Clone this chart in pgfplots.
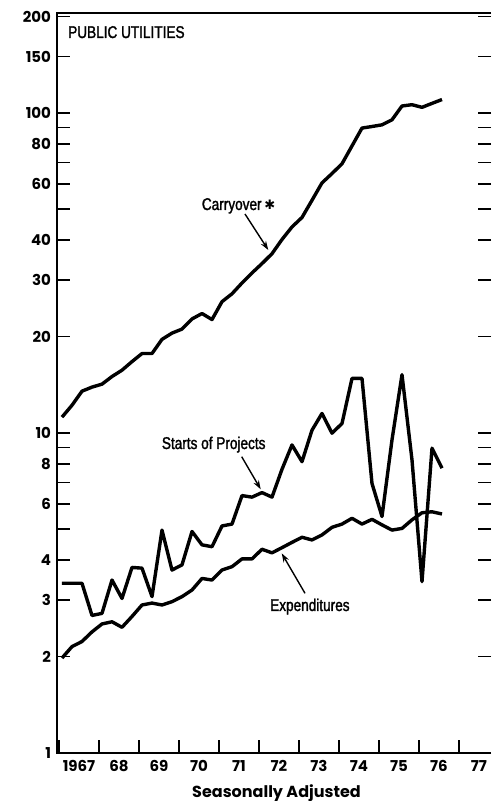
\documentclass[border=0pt]{standalone}
\usepackage{pgfplots}
\pgfplotsset{compat=1.18}
\usepackage{pgfplotstable}
\usepackage{fontspec}
\setmainfont{Poppins}
\newfontfamily\cond[FakeStretch=0.80,FakeBold=1.6]{Liberation Sans}
\newfontfamily\symf{DejaVu Sans}
\newcommand{\tickfont}{\fontsize{15}{15}\selectfont\bfseries}
\usetikzlibrary{arrows.meta}

\pgfplotstableread{
t        carry  starts  exp
1967.075 11.2   3.39    1.98
1967.325 12.2   3.39    2.15
1967.575 13.5   3.39    2.23
1967.825 13.9   2.69    2.39
1968.075 14.2   2.73    2.53
1968.325 15.0   3.47    2.57
1968.575 15.7   3.04    2.47
1968.825 16.7   3.80    2.67
1969.075 17.7   3.78    2.90
1969.325 17.7   3.08    2.94
1969.575 19.6   4.97    2.90
1969.825 20.5   3.73    2.97
1970.075 21.1   3.87    3.08
1970.325 22.7   4.92    3.23
1970.575 23.6   4.47    3.51
1970.825 22.6   4.41    3.47
1971.075 25.7   5.12    3.73
1971.325 27.2   5.19    3.82
1971.575 29.4   6.37    4.04
1971.825 31.6   6.30    4.04
1972.075 33.8   6.51    4.33
1972.325 36.3   6.30    4.22
1972.575 40.2   7.70    4.38
1972.825 44.0   9.17    4.55
1973.075 47.1   8.13    4.72
1973.325 53.3   10.2    4.63
1973.575 60.4   11.5    4.80
1973.825 64.6   9.98    5.07
1974.075 69.3   10.7    5.19
1974.325 78.8   14.8    5.41
1974.575 89.6   14.8    5.19
1974.825 90.6   6.95    5.37
1975.075 91.7   5.48    5.16
1975.325 95.1   9.51    4.97
1975.575 105.0  15.2    5.03
1975.825 106.0  8.23    5.35
1976.075 104.0  3.43    5.63
1976.325 107.0  8.96    5.67
1976.575 110.0  7.76    5.58
}\datatable

\begin{document}
\begin{tikzpicture}[x=1pt,y=1pt]
\begin{axis}[
  at={(0,0)}, anchor=south west,
  scale only axis, width=433.5pt, height=740pt,
  xmin=1966.9625, xmax=1977.8,
  ymode=log, ymin=1, ymax=205,
  axis line style={draw=none},
  clip=false,
  tick align=inside,
  xtick pos=bottom, ytick pos=both,
  xtick={1967,...,1977},
  xticklabels={1967,68,69,70,71,72,73,74,75,76,77},
  minor x tick num=3,
  ytick={1,2,3,4,6,8,10,20,30,40,60,80,100,150,200},
  yticklabels={1,2,3,4,6,8,10,20,30,40,60,80,100,150,200},
  extra y ticks={5,7,9,50,70,90},
  extra y tick labels={},
  yminorticks=false,
  major tick length=13pt, minor tick length=10pt,
  every tick/.style={black, line width=1.6pt},
  /pgf/number format/assume math mode=true,
  xticklabel style={font=\tickfont, xshift=20pt, yshift=-4pt},
  yticklabel style={font=\tickfont, xshift=-3pt},
]
\addplot[black, line width=3.4pt, line join=round] table[x=t, y=carry] {\datatable};
\addplot[black, line width=3.4pt, line join=round] table[x=t, y=starts] {\datatable};
\addplot[black, line width=3.4pt, line join=round] table[x=t, y=exp] {\datatable};
\draw[line width=2pt] (rel axis cs:1,1) -- (rel axis cs:0,1) -- (rel axis cs:0,0) -- (rel axis cs:0.99,0);
\end{axis}
% annotations (pt = px relative to axis corner)
\node[anchor=base west, inner sep=0pt, font=\cond\fontsize{17}{17}\selectfont] at (10.5,715) {PUBLIC UTILITIES};
\node[anchor=base west, inner sep=0pt, font=\cond\fontsize{17}{17}\selectfont] at (144.2,543) {Carryover\,{\symf\fontsize{13}{13}\selectfont ✱}};
\draw[line width=1.4pt, -{Stealth[length=9pt,width=6pt]}] (187.5,539) -- (210.8,503);
\node[anchor=base west, inner sep=0pt, font=\cond\fontsize{17}{17}\selectfont] at (104.2,304) {Starts of Projects};
\draw[line width=1.4pt, -{Stealth[length=9pt,width=6pt]}] (184.2,296.3) -- (203.2,263.7);
\node[anchor=base west, inner sep=0pt, font=\cond\fontsize{17}{17}\selectfont] at (212.5,142) {Expenditures};
\draw[line width=1.4pt, -{Stealth[length=9pt,width=6pt]}] (247.5,159.7) -- (224.2,199.7);
\node[anchor=base, inner sep=0pt, font=\fontsize{16}{16}\selectfont\bfseries] at (219,-44) {Seasonally Adjusted};
\pgfresetboundingbox
\path[use as bounding box] (-57.5,-48) rectangle (433.5,753);
\end{tikzpicture}
\end{document}
